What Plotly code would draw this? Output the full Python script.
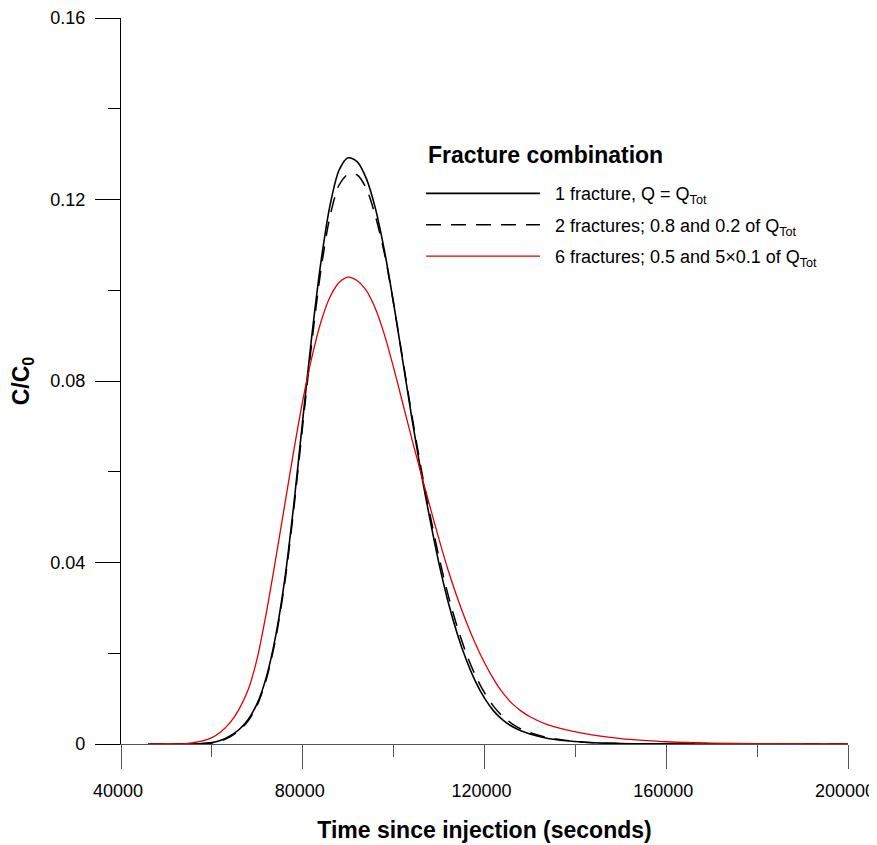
import plotly.graph_objects as go

# Time since injection (seconds)
t = [46000, 50000, 54000, 58000, 60000, 62000, 64000, 66000, 68000, 70000,
     72000, 74000, 76000, 78000, 80000, 82000, 84000, 86000, 88000, 90000,
     92000, 94000, 96000, 98000, 100000, 102000, 104000, 106000, 108000, 110000,
     112000, 114000, 116000, 118000, 120000, 122000, 124000, 126000, 128000, 130000,
     134000, 138000, 142000, 146000, 150000, 155000, 160000, 170000, 180000, 190000, 200000]

# C/C0 values
c_one = [0, 0, 0, 0.0001, 0.0003, 0.0008, 0.0018, 0.0032, 0.0054, 0.0090,
         0.0148, 0.0236, 0.0360, 0.0525, 0.0715, 0.0900, 0.1062, 0.1187, 0.1265, 0.1292,
         0.1283, 0.1246, 0.1180, 0.1086, 0.0971, 0.0845, 0.0719, 0.0601, 0.0495, 0.0397,
         0.0313, 0.0243, 0.0185, 0.0138, 0.0101, 0.0073, 0.0053, 0.0039, 0.0029, 0.0022,
         0.0012, 0.0007, 0.0004, 0.0002, 0.0001, 0.00005, 0.00002, 0, 0, 0, 0]

c_two = [0, 0, 0, 0.0001, 0.0002, 0.0007, 0.0016, 0.0030, 0.0051, 0.0086,
         0.0143, 0.0230, 0.0352, 0.0515, 0.0703, 0.0885, 0.1045, 0.1163, 0.1232, 0.1256,
         0.1254, 0.1224, 0.1163, 0.1080, 0.0970, 0.0848, 0.0725, 0.0610, 0.0506, 0.0411,
         0.0328, 0.0258, 0.0199, 0.0151, 0.0113, 0.0083, 0.0061, 0.0045, 0.0033, 0.0025,
         0.0014, 0.0008, 0.0004, 0.0002, 0.0001, 0.00005, 0.00002, 0, 0, 0, 0]

c_six = [0, 0.00002, 0.0001, 0.0007, 0.0014, 0.0027, 0.0047, 0.0077, 0.0120, 0.0190,
         0.0290, 0.0405, 0.0525, 0.0645, 0.0757, 0.0852, 0.0930, 0.0985, 0.1017, 0.1029,
         0.1021, 0.0999, 0.0959, 0.0901, 0.0829, 0.0751, 0.0673, 0.0597, 0.0523, 0.0451,
         0.0383, 0.0323, 0.0269, 0.0221, 0.0179, 0.0143, 0.0113, 0.0090, 0.0073, 0.0060,
         0.0042, 0.0031, 0.0023, 0.0017, 0.0012, 0.0008, 0.0005, 0.0002, 0.0001, 0.00004, 0.00001]

names = ["1 fracture, Q = Q<sub>Tot</sub>",
         "2 fractures; 0.8 and 0.2 of Q<sub>Tot</sub>",
         "6 fractures; 0.5 and 5×0.1 of Q<sub>Tot</sub>"]
legend_title = "Fracture combination"

FONT = "Liberation Sans, Arial, sans-serif"
PAD = "\u00a0\u00a0"

fig = go.Figure()
fig.add_trace(go.Scatter(x=t, y=c_one, mode="lines", name=PAD + names[0], legendgroup="a",
                         line=dict(color="black", width=1.6, shape="spline", smoothing=0.8)))
fig.add_trace(go.Scatter(x=t, y=c_two, mode="lines", name=PAD + names[1], legendgroup="b",
                         line=dict(color="black", width=1.5, dash="15px,10px", shape="spline", smoothing=0.8)))
fig.add_trace(go.Scatter(x=t, y=c_six, mode="lines", name=PAD + names[2], legendgroup="c",
                         line=dict(color="#e00000", width=1.3, shape="spline", smoothing=0.8)))

fig.update_layout(
    width=869, height=837,
    margin=dict(l=113, r=29, t=10, b=101),
    paper_bgcolor="white", plot_bgcolor="white",
    font=dict(family=FONT, size=18, color="black"),
    showlegend=True,
    legend=dict(
        x=0.4127, y=0.7835, xanchor="left", yanchor="top",
        bgcolor="rgba(0,0,0,0)",
        font=dict(family=FONT, size=18, color="black"),
        tracegroupgap=5,
        itemwidth=114,
    ),
    annotations=[dict(
        text="<b>" + legend_title + "</b>", xref="paper", yref="paper",
        x=0.420, y=0.8113, xanchor="left", yanchor="middle", showarrow=False,
        font=dict(family=FONT, size=23, color="black"),
    )],
    xaxis=dict(
        range=[40000, 200000], tick0=40000, dtick=40000, tickformat="d",
        showgrid=False, zeroline=False, automargin=False,
        showline=True, linecolor="#555555", linewidth=1.2,
        ticks="outside", ticklen=24, tickcolor="#555555", tickwidth=1.2,
        minor=dict(dtick=20000, ticks="outside", ticklen=12, tickcolor="#555555", tickwidth=1.2),
        ticklabelstandoff=6, ticklabelshift=-3, ticklabeloverflow="allow",
        title=dict(text="<b>Time since injection (seconds)</b>", font=dict(family=FONT, size=23), standoff=22),
    ),
    yaxis=dict(
        range=[0, 0.16], tick0=0, dtick=0.04,
        showgrid=False, zeroline=False, automargin=False,
        showline=True, linecolor="black", linewidth=1.2,
        ticks="outside", ticklen=25, tickcolor="black", tickwidth=1.2,
        minor=dict(dtick=0.02, ticks="outside", ticklen=12, tickcolor="black", tickwidth=1.2),
        ticklabelstandoff=6, ticklabeloverflow="allow",
        title=dict(text="<b>C/C<sub>0</sub></b>", font=dict(family=FONT, size=23), standoff=18),
    ),
)

fig.write_html("out.html")
